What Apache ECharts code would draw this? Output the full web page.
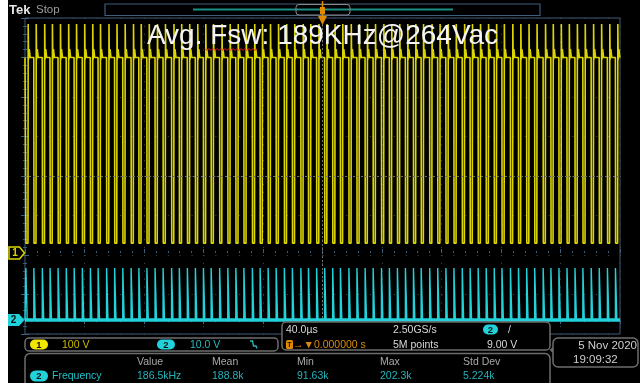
<!DOCTYPE html>
<html><head><meta charset="utf-8">
<script src="https://cdn.jsdelivr.net/npm/echarts@6/dist/echarts.min.js"></script>
<style>html,body{margin:0;padding:0;background:#fff}#c{width:644px;height:385px}</style>
</head><body><div id="c"></div>
<script>
// ---- data (read from the screen capture) ----
// time axis: 40 µs/div, 10 divisions
const timeMin = 0, timeMax = 400, timePerDiv = 40;
// start of each gate pulse (µs)
const gateTimes = [0.5, 5.9, 11.6, 16.8, 22.2, 27.7, 33.0, 38.5, 43.9, 49.1, 54.8, 60.2, 65.7, 71.3, 76.5,
  81.9, 87.4, 92.8, 98.5, 103.7, 109.1, 114.5, 119.9, 125.1, 130.8, 136.3, 141.7, 147.1, 152.8, 158.0,
  163.4, 168.8, 174.3, 179.7, 185.4, 190.5, 196.0, 201.4, 206.8, 212.0, 217.7, 223.1, 228.6, 234.0,
  239.6, 244.9, 250.3, 255.7, 261.1, 266.3, 272.0, 277.4, 282.9, 288.3, 293.9, 299.2, 304.6, 310.0,
  315.4, 320.6, 326.3, 331.7, 337.2, 342.6, 348.3, 353.5, 358.9, 364.3, 369.7, 375.0, 380.6, 386.0,
  391.5, 396.9];
// CH1 (drain, 100 V/div): one switching cycle, offsets from gate start (µs) and volts
const ch1CycleOffsets = [0, 0.15, 1.5, 1.65, 1.9, 2.35, 3.0];
const ch1CycleVolts   = [495, 25, 25, 580, 490, 516, 495];
const ch1RestVolts = 495;
const ch1AxisMin = -205, ch1AxisMax = 595, ch1PerDiv = 100;
// CH2 (gate, 10 V/div)
const ch2CycleOffsets = [0, 0.05, 0.95, 1.0];
const ch2CycleVolts   = [0, 13.2, 13.2, 0];
const ch2RestVolts = 0;
const ch2AxisMin = -3.5, ch2AxisMax = 76.5, ch2PerDiv = 10;
// readouts
const titleText = 'Avg. Fsw: 189KHz@264Vac';
const measHeaders = ['Value', 'Mean', 'Min', 'Max', 'Std Dev'];
const measValues = ['186.5kHz', '188.8k', '91.63k', '202.3k', '5.224k'];
const ch1Scale = '100 V', ch2Scale = '10.0 V';
const timeBase = '40.0µs', sampleRate = '2.50GS/s', recordLen = '5M points', trigLevel = '9.00 V', trigPos = '0.000000 s';
const dateText = '5 Nov 2020', timeText = '19:09:32';

// ---- build series ----
function buildTrace(offsets, volts, rest) {
  const d = [[timeMin, rest]];
  gateTimes.forEach(t => offsets.forEach((o, i) => d.push([t + o, volts[i]])));
  d.push([timeMax, rest]);
  return d;
}
const ch1Data = buildTrace(ch1CycleOffsets, ch1CycleVolts, ch1RestVolts);
const ch2Data = buildTrace(ch2CycleOffsets, ch2CycleVolts, ch2RestVolts);

const FRAME = '#3d5d7c';
const F = '"Liberation Sans", Arial, sans-serif';
const YEL = '#dcd600', CYA = '#22d2da';

function txt(text, x, y, fill, size, align, bold) {
  return {type:'text', z:100, style:{text, x, y, fill, font:(bold?'bold ':'') + size + 'px ' + F,
    textAlign: align || 'left', textVerticalAlign:'middle'}};
}
function rrect(x, y, w, h, r, fill, stroke, lw) {
  return {type:'rect', z:99, shape:{x, y, width:w, height:h, r}, style:{fill, stroke, lineWidth: lw || 1}};
}
function pill(x, y, w, h, color, label) {
  return [rrect(x, y, w, h, h/2, color, null, 0), txt(label, x + w/2, y + h/2 + 0.5, '#111', 9.5, 'center', true)];
}

const squiggle = [];
for (let i = 0; i <= 26; i++) squiggle.push([205 + i * 2, 48.5 + (i % 2 ? 2 : 0)]);

const graphic = [
  // white margins of the capture
  {type:'rect', z:200, shape:{x:0, y:0, width:8, height:385}, style:{fill:'#fff'}},
  {type:'rect', z:200, shape:{x:640, y:0, width:4, height:385}, style:{fill:'#fff'}},
  {type:'rect', z:200, shape:{x:0, y:383, width:644, height:2}, style:{fill:'#fff'}},
  // header
  txt('Tek', 9, 10, '#e6e6e6', 13, 'left', true),
  txt('Stop', 36, 10, '#9c9c9c', 11.5),
  {type:'rect', z:99, shape:{x:105, y:4, width:435, height:11.5}, style:{fill:'none', stroke:FRAME, lineWidth:1.2}},
  {type:'line', z:100, shape:{x1:193, y1:9.5, x2:453, y2:9.5}, style:{stroke:'#1b8f86', lineWidth:2}},
  {type:'rect', z:100, shape:{x:296, y:4.5, width:54, height:10.5, r:3}, style:{fill:'none', stroke:'#8a8a8a', lineWidth:1}},
  // trigger position marker
  {type:'line', z:101, shape:{x1:322.5, y1:1, x2:322.5, y2:17}, style:{stroke:'#e08a00', lineWidth:1.5}},
  {type:'rect', z:101, shape:{x:320, y:7, width:5, height:7}, style:{fill:'#e08a00'}},
  {type:'polygon', z:101, shape:{points:[[318,16],[327,16],[322.5,25]]}, style:{fill:'#e08a00'}},
  // title
  txt(titleText, 322.5, 36, '#f4f4f4', 28, 'center'),
  {type:'polyline', z:101, shape:{points:squiggle}, style:{stroke:'#e02020', lineWidth:1, fill:null}},
  // channel ground markers
  {type:'polygon', z:100, shape:{points:[[9,247],[19.5,247],[24.5,253],[19.5,259],[9,259]]}, style:{fill:'#000', stroke:YEL, lineWidth:1.5}},
  txt('1', 15, 253.5, YEL, 10, 'center', true),
  {type:'polygon', z:100, shape:{points:[[8,314],[19,314],[24.5,320],[19,326],[8,326]]}, style:{fill:CYA}},
  txt('2', 13.5, 320.5, '#111', 10, 'center', true),
  // channel box
  rrect(25, 338, 253, 13, 4, '#000', '#6e6e6e', 1.5),
  ...pill(30, 339.5, 18, 10, '#f2e600', '1'),
  txt(ch1Scale, 62, 345, '#cbbb00', 10.5),
  ...pill(157, 339.5, 18, 10, CYA, '2'),
  txt(ch2Scale, 190, 345, '#26b9bf', 10.5),
  {type:'polyline', z:100, shape:{points:[[250,341],[252.5,341],[253.5,346],[256,346],[257,348.5]]}, style:{stroke:'#26b9bf', lineWidth:1.3, fill:null}},
  // timebase / trigger box
  rrect(282, 322, 268, 28, 4, '#000', '#6e6e6e', 1.5),
  txt(timeBase, 286, 330, '#d8d8d8', 10.5),
  txt(sampleRate, 393, 330, '#d8d8d8', 10.5),
  ...pill(483, 324.5, 15, 10, CYA, '2'),
  txt('/', 508, 330, '#d8d8d8', 10.5),
  {type:'rect', z:100, shape:{x:286, y:340, width:7, height:9, r:1.5}, style:{fill:'#e08a00'}},
  txt('T', 289.5, 345, '#111', 7, 'center', true),
  txt('→▼' + trigPos, 293, 345, '#d88a10', 10.5),
  txt(recordLen, 393, 345, '#d8d8d8', 10.5),
  txt(trigLevel, 487, 345, '#d8d8d8', 10.5),
  // measurement box
  rrect(25, 353.5, 525, 40, 5, '#000', '#6e6e6e', 1.5),
  ...pill(30, 370.5, 18, 11, CYA, '2'),
  txt('Frequency', 52, 376.5, '#22c0c8', 10.5),
  // date box
  rrect(553, 338, 85, 29, 5, '#000', '#6e6e6e', 1.5),
  {type:'polygon', z:100, shape:{points:[[553,347],[549.5,350],[553,353]]}, style:{fill:'#6e6e6e'}},
  txt(dateText, 637, 346, '#cfcfcf', 11.5, 'right'),
  txt(timeText, 573, 359.5, '#cfcfcf', 11.5)
];
const measX = [137, 212, 297, 380, 463];
measHeaders.forEach((h, i) => graphic.push(txt(h, measX[i], 362, '#a8a8a8', 10.5)));
measValues.forEach((v, i) => graphic.push(txt(v, measX[i], 376.5, '#24b3ba', 10.5)));

const gridDot = '#4a4a4a';
const option = {
  backgroundColor: '#000',
  animation: false,
  grid: {left:25, top:18, width:595, height:316, show:true, borderColor:FRAME, borderWidth:1, backgroundColor:'#000'},
  xAxis: [
    {type:'value', min:timeMin, max:timeMax, interval:timePerDiv,
     axisLabel:{show:false}, axisLine:{show:false},
     axisTick:{show:true, inside:true, length:4, lineStyle:{color:FRAME}},
     minorTick:{show:true, splitNumber:5, length:2, lineStyle:{color:FRAME}},
     splitLine:{show:true, lineStyle:{color:gridDot, type:[1,6.9], width:1}}},
    {type:'value', position:'top', min:timeMin, max:timeMax, interval:timePerDiv,
     axisLabel:{show:false}, axisLine:{show:false},
     axisTick:{show:true, inside:true, length:4, lineStyle:{color:FRAME}},
     minorTick:{show:true, splitNumber:5, length:2, lineStyle:{color:FRAME}},
     splitLine:{show:false}}
  ],
  yAxis: [
    {type:'value', min:ch1AxisMin, max:ch1AxisMax, interval:ch1PerDiv,
     axisLabel:{show:false}, axisLine:{show:false},
     axisTick:{show:true, inside:true, length:4, lineStyle:{color:FRAME}},
     minorTick:{show:true, splitNumber:5, length:2, lineStyle:{color:FRAME}},
     splitLine:{show:true, lineStyle:{color:gridDot, type:[1,10.9], width:1}}},
    {type:'value', position:'right', min:ch2AxisMin, max:ch2AxisMax, interval:ch2PerDiv,
     axisLabel:{show:false}, axisLine:{show:false},
     axisTick:{show:true, inside:true, length:4, lineStyle:{color:FRAME}},
     minorTick:{show:true, splitNumber:5, length:2, lineStyle:{color:FRAME}},
     splitLine:{show:false}}
  ],
  graphic: graphic,
  series: [
    {type:'line', name:'CH1', xAxisIndex:0, yAxisIndex:0, data:ch1Data, showSymbol:false, symbol:'none',
     lineStyle:{color:YEL, width:1.6}, z:3, clip:true,
     markLine:{silent:true, symbol:'none', label:{show:false}, animation:false,
       lineStyle:{color:'#707070', type:[2,2], width:1},
       data:[{xAxis:(timeMin + timeMax) / 2}, {yAxis:(ch1AxisMin + ch1AxisMax) / 2}]}},
    {type:'line', name:'CH2', xAxisIndex:0, yAxisIndex:1, data:ch2Data, showSymbol:false, symbol:'none',
     lineStyle:{color:CYA, width:1.4}, z:4, clip:true,
     markLine:{silent:true, symbol:'none', label:{show:false}, animation:false,
       lineStyle:{color:CYA, type:'solid', width:3.5},
       data:[{yAxis:ch2RestVolts}]}}
  ]
};
const chart = echarts.init(document.getElementById('c'));
chart.setOption(option);
</script></body></html>
